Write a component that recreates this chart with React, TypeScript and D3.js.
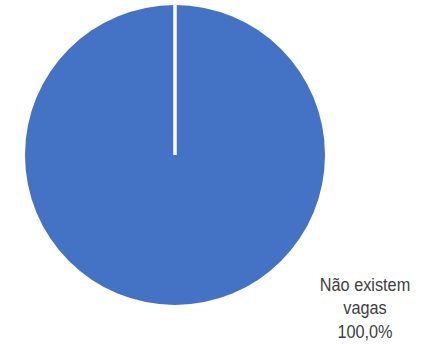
import React from "react";
import * as d3 from "d3";

const categories = ["Não existem vagas"];
const values = [100];
const labelLines = ["Não existem", "vagas", "100,0%"];

export default function App() {
  const width = 422, height = 344;
  const cx = 175, cy = 155, r = 150;
  const pie = d3.pie<number>().sort(null)(values);
  const arc = d3.arc<d3.PieArcDatum<number>>().innerRadius(0).outerRadius(r);
  const lx = 365, sx = 0.88;
  return (
    <svg width={width} height={height} style={{ position: "absolute", left: 0, top: 0 }}>
      <g transform={`translate(${cx},${cy})`}>
        {pie.map((d, i) => (
          <path key={categories[i]} d={arc(d) || ""} fill="#4472C4" />
        ))}
        <line x1={0} y1={0} x2={0} y2={-r - 1} stroke="#fff" strokeWidth={3.5} />
      </g>
      <g transform={`translate(${lx},0) scale(${sx},1)`}>
        <text fontFamily="Liberation Sans, Arial, sans-serif" fontSize={18.5} fill="#404040" textAnchor="middle">
          {labelLines.map((t, i) => (
            <tspan key={i} x={0} y={291 + i * 23.3}>{t}</tspan>
          ))}
        </text>
      </g>
    </svg>
  );
}
